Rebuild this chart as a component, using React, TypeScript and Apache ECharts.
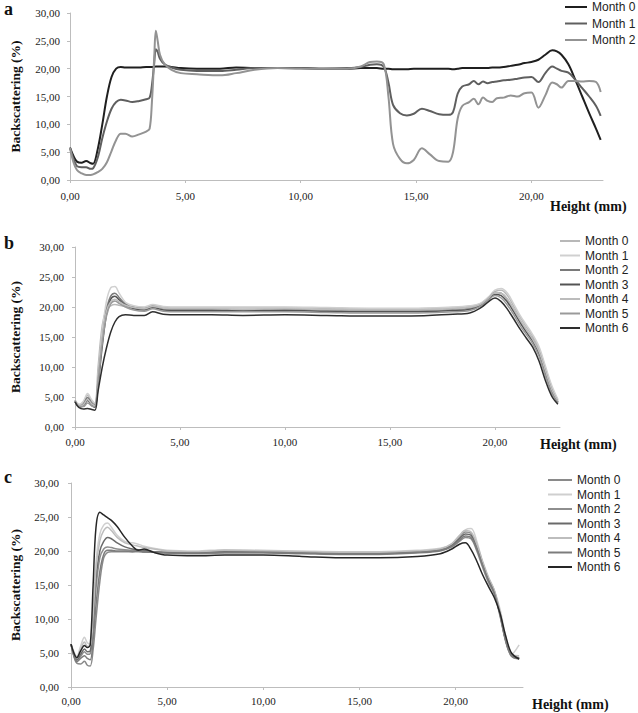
import React, { useEffect, useRef } from "react";
import * as echarts from "echarts";

// ---------- Panel a ----------
const xA = [0, 0.15, 0.3, 0.5, 0.7, 0.9, 1.0, 1.2, 1.4, 1.6, 1.8, 2.0, 2.2, 2.4, 2.7, 3.0, 3.3, 3.45, 3.55, 3.65, 3.72, 3.8, 3.9, 4.1, 4.4, 4.8, 5.5, 6.5, 7.2, 8.0, 9, 10, 11, 12, 12.6, 13.0, 13.3, 13.6, 13.8, 14.0, 14.3, 14.6, 14.9, 15.25, 15.6, 16.0, 16.4, 16.6, 16.8, 17.0, 17.3, 17.5, 17.7, 17.9, 18.1, 18.3, 18.5, 18.8, 19.1, 19.4, 19.7, 20.0, 20.3, 20.6, 20.9, 21.1, 21.3, 21.6, 21.9, 22.2, 22.5, 22.8, 23.0];
const aMonth0 = [5.8, 4.3, 3.3, 3.1, 3.4, 3.0, 2.9, 5.5, 10, 15, 18.5, 20.0, 20.3, 20.2, 20.2, 20.2, 20.3, 20.3, 20.3, 20.3, 20.4, 20.4, 20.4, 20.4, 20.3, 20.1, 20.0, 20.0, 20.2, 20.1, 20.1, 20.1, 20.0, 20.0, 20.1, 20.1, 20.1, 20.0, 20.0, 19.9, 19.9, 19.9, 20.0, 20.0, 20.0, 20.0, 20.0, 19.9, 20.0, 20.1, 20.1, 20.1, 20.1, 20.1, 20.1, 20.2, 20.2, 20.3, 20.5, 20.7, 21.0, 21.2, 21.6, 22.5, 23.3, 23.1, 22.5, 20.8, 18.0, 15.0, 12.0, 9.2, 7.2];
const aMonth1 = [5.8, 3.8, 2.5, 2.3, 2.3, 2.0, 2.1, 4.0, 7.5, 10.5, 12.8, 14.0, 14.4, 14.3, 14.0, 14.2, 14.5, 14.8, 17, 21, 23.5, 23.0, 21.8, 20.8, 20.2, 19.8, 19.6, 19.6, 19.8, 20.1, 20.1, 20.1, 20.0, 20.1, 20.3, 20.7, 20.8, 20.3, 17.5, 13.5, 12.0, 11.6, 11.9, 12.8, 12.4, 11.8, 11.7, 12.2, 15.5, 16.8, 17.2, 17.8, 17.2, 17.7, 17.4, 17.6, 17.7, 17.9, 18.0, 18.2, 18.4, 18.5, 17.6, 19.2, 20.4, 20.0, 19.6, 19.3, 18.0, 16.5, 15.0, 13.3, 11.5];
const aMonth2 = [5.8, 3.2, 1.8, 1.2, 0.9, 0.9, 1.0, 1.4, 2.0, 3.2, 5.2, 7.2, 8.3, 8.3, 7.8, 8.2, 8.7, 9.2, 14, 22, 26.8, 25, 22.5, 20.8, 19.8, 19.2, 19.0, 18.8, 19.2, 19.8, 20.1, 20.0, 20.0, 20.0, 20.4, 21.2, 21.3, 20.8, 15, 6.5, 3.8, 3.0, 3.6, 5.7, 4.6, 3.4, 3.3, 5, 11, 13.3, 14.0, 14.6, 13.6, 14.8, 14.2, 14.0, 14.7, 14.8, 15.2, 15.0, 15.6, 15.7, 13.0, 15.2, 17.5, 17.2, 16.6, 17.8, 17.8, 17.7, 17.8, 17.6, 15.8];

// ---------- Panel b ----------
const xB = [0, 0.2, 0.4, 0.6, 0.8, 0.95, 1.1, 1.3, 1.5, 1.7, 1.9, 2.1, 2.4, 2.8, 3.3, 3.7, 4.2, 5, 6.5, 8, 10, 12, 14, 16, 18, 18.8, 19.3, 19.7, 20.0, 20.3, 20.6, 20.9, 21.2, 21.5, 21.8, 22.1, 22.4, 22.7, 23.0];
const bMonth0 = [4.5, 3.7, 4.1, 5.3, 4.3, 3.9, 10.0, 17.0, 19.6, 20.2, 20.4, 20.3, 20.1, 20.0, 19.9, 20.3, 20.0, 19.9, 19.9, 19.9, 19.9, 19.8, 19.7, 19.7, 19.9, 20.1, 20.5, 21.6, 22.6, 22.8, 21.9, 20.1, 18.3, 16.7, 15.1, 13.1, 9.9, 6.7, 4.5];
const bMonth1 = [4.5, 3.8, 4.3, 5.6, 4.5, 4.0, 8.5, 16.0, 21.0, 23.2, 23.4, 22.3, 20.8, 20.2, 20.0, 20.4, 20.1, 20.0, 20.0, 20.0, 20.0, 19.9, 19.8, 19.8, 20.0, 20.2, 20.6, 21.7, 22.8, 23.1, 22.3, 20.5, 18.6, 17.0, 15.4, 13.4, 10.2, 7.0, 4.6];
const bMonth2 = [4.4, 3.5, 3.8, 4.9, 4.0, 3.7, 7.8, 14.5, 19.5, 21.8, 22.3, 21.6, 20.5, 19.9, 19.7, 20.1, 19.7, 19.6, 19.6, 19.6, 19.6, 19.5, 19.4, 19.4, 19.6, 19.8, 20.3, 21.4, 22.4, 22.3, 21.2, 19.5, 17.7, 16.1, 14.6, 12.5, 9.3, 6.2, 4.2];
const bMonth3 = [4.3, 3.3, 3.5, 4.4, 3.6, 3.3, 7.0, 13.5, 18.8, 21.3, 21.8, 21.2, 20.3, 19.7, 19.5, 19.9, 19.5, 19.4, 19.4, 19.4, 19.4, 19.3, 19.2, 19.2, 19.4, 19.6, 20.2, 21.3, 22.1, 21.9, 20.8, 19.2, 17.4, 15.8, 14.3, 12.2, 9.0, 6.0, 4.1];
const bMonth4 = [4.3, 3.5, 3.7, 4.6, 3.8, 3.6, 8.0, 15.0, 19.3, 20.9, 21.3, 20.9, 20.3, 19.9, 19.7, 20.1, 19.8, 19.7, 19.7, 19.6, 19.7, 19.6, 19.5, 19.5, 19.7, 19.9, 20.4, 21.5, 22.4, 22.3, 21.3, 19.6, 17.8, 16.2, 14.6, 12.6, 9.4, 6.3, 4.3];
const bMonth5 = [4.3, 3.4, 3.4, 4.0, 3.5, 3.4, 7.5, 14.0, 18.5, 20.5, 21.0, 20.6, 20.0, 19.5, 19.3, 19.7, 19.3, 19.2, 19.2, 19.2, 19.2, 19.1, 19.0, 19.0, 19.2, 19.4, 20.1, 21.2, 21.9, 21.5, 20.3, 18.7, 16.9, 15.4, 13.9, 11.8, 8.6, 5.7, 4.0];
const bMonth6 = [4.2, 3.2, 3.0, 3.1, 2.9, 2.8, 6.0, 10.0, 13.2, 15.8, 17.5, 18.4, 18.7, 18.6, 18.6, 19.2, 18.8, 18.7, 18.7, 18.6, 18.7, 18.6, 18.5, 18.5, 18.8, 19.0, 19.8, 20.9, 21.5, 20.9, 19.6, 18.0, 16.3, 14.8, 13.3, 11.0, 7.8, 5.2, 3.8];

// ---------- Panel c ----------
const xC = [0, 0.15, 0.3, 0.5, 0.7, 0.85, 1.0, 1.15, 1.3, 1.5, 1.7, 1.9, 2.1, 2.4, 2.8, 3.2, 3.5, 3.8, 4.3, 5, 6.5, 8, 10, 12, 14, 16, 18, 19.2, 19.8, 20.2, 20.5, 20.8, 21.1, 21.4, 21.7, 22.0, 22.3, 22.6, 22.9, 23.3];
const cMonth0 = [6.3, 4.5, 3.5, 3.4, 3.8, 3.2, 3.1, 5.5, 10.0, 15.5, 19.0, 19.8, 19.9, 19.9, 19.9, 19.9, 19.9, 19.8, 19.8, 19.7, 19.6, 19.7, 19.7, 19.6, 19.5, 19.5, 19.7, 20.0, 20.6, 21.4, 22.0, 21.8, 20.0, 17.6, 15.4, 13.7, 10.5, 6.7, 4.5, 4.1];
const cMonth1 = [6.4, 5.2, 4.5, 6.0, 7.3, 6.5, 6.3, 11.0, 18.5, 22.5, 23.8, 24.1, 23.5, 22.3, 21.4, 21.2, 21.0, 20.7, 20.4, 20.1, 20.0, 20.2, 20.1, 20.0, 19.9, 19.9, 20.1, 20.4, 21.0, 22.2, 23.1, 23.3, 21.4, 18.3, 16.0, 14.3, 11.5, 7.5, 4.8, 6.2];
const cMonth2 = [6.3, 4.7, 3.9, 4.5, 5.2, 4.8, 4.9, 8.5, 14.5, 19.0, 20.3, 20.6, 20.5, 20.3, 20.2, 20.1, 20.1, 20.0, 19.9, 19.8, 19.8, 19.9, 19.9, 19.8, 19.7, 19.7, 19.9, 20.2, 20.9, 22.0, 22.8, 22.6, 20.8, 18.3, 16.0, 14.2, 11.0, 7.0, 4.7, 4.3];
const cMonth3 = [6.3, 4.8, 4.0, 4.8, 5.6, 5.2, 5.3, 9.5, 16.0, 20.0, 21.4, 22.0, 21.8, 21.2, 20.6, 20.3, 20.2, 20.1, 19.9, 19.8, 19.7, 19.9, 19.8, 19.7, 19.6, 19.6, 19.8, 20.1, 20.8, 21.8, 22.5, 22.3, 20.5, 18.0, 15.8, 14.0, 10.8, 6.9, 4.7, 4.3];
const cMonth4 = [6.3, 5.0, 4.2, 5.5, 6.6, 6.0, 6.0, 10.5, 17.5, 21.5, 23.0, 23.5, 23.0, 22.0, 21.2, 20.9, 20.7, 20.5, 20.3, 20.0, 19.9, 20.1, 20.0, 19.9, 19.8, 19.8, 20.0, 20.3, 21.1, 22.3, 23.0, 22.8, 21.0, 18.5, 16.2, 14.3, 11.0, 7.0, 4.8, 4.6];
const cMonth5 = [6.3, 4.6, 3.7, 4.2, 4.6, 4.2, 4.0, 7.0, 12.0, 17.0, 19.5, 20.1, 20.1, 20.0, 20.0, 19.9, 20.0, 19.9, 19.8, 19.7, 19.7, 19.8, 19.8, 19.7, 19.6, 19.6, 19.8, 20.1, 20.7, 21.6, 22.2, 22.0, 20.3, 17.9, 15.7, 13.9, 10.7, 6.8, 4.6, 4.2];
const cMonth6 = [6.3, 5.0, 4.3, 5.3, 6.1, 5.8, 6.2, 15.0, 23.5, 25.7, 25.3, 24.9, 24.5, 23.6, 22.0, 20.7, 20.1, 20.3, 19.8, 19.4, 19.3, 19.4, 19.4, 19.2, 19.0, 19.0, 19.2, 19.6, 20.3, 21.0, 21.2, 20.2, 18.5, 16.5, 14.8, 13.2, 10.9, 7.5, 5.0, 4.1];

const yTicks = { min: 0, max: 30, interval: 5 };
const xTickInterval = 5;

const panelA = { x: xA, names: ["Month 0", "Month 1", "Month 2"], data: [aMonth0, aMonth1, aMonth2], colors: ["#1f1f1f", "#5f5f5f", "#939393"] };
const panelB = { x: xB, names: ["Month 0", "Month 1", "Month 2", "Month 3", "Month 4", "Month 5", "Month 6"], data: [bMonth0, bMonth1, bMonth2, bMonth3, bMonth4, bMonth5, bMonth6], colors: ["#b8b8b8", "#d0d0d0", "#7a7a7a", "#545454", "#bcbcbc", "#9a9a9a", "#2e2e2e"] };
const panelC = { x: xC, names: ["Month 0", "Month 1", "Month 2", "Month 3", "Month 4", "Month 5", "Month 6"], data: [cMonth0, cMonth1, cMonth2, cMonth3, cMonth4, cMonth5, cMonth6], colors: ["#8a8a8a", "#cfcfcf", "#8e8e8e", "#6a6a6a", "#bdbdbd", "#7c7c7c", "#262626"] };

const fmt = (v: number) => v.toFixed(2).replace(".", ",");

export default function App() {
  const ref = useRef<HTMLDivElement>(null);
  useEffect(() => {
    if (!ref.current) return;
    const chart = echarts.init(ref.current, null, { renderer: "svg" });
    const panels = [
      { key: "a", p: panelA, grid: { left: 58, top: 13, width: 545, height: 167 }, xmax: 23.1, xMargin: 10, yMargin: 10, nameGap: 48, lw: 2, legend: { left: 565, top: 0, itemWidth: 22, itemGap: 2.5 } },
      { key: "b", p: panelB, grid: { left: 66, top: 247, width: 494, height: 180 }, xmax: 23.1, xMargin: 9, yMargin: 11, nameGap: 53, lw: 1.5, legend: { left: 560, top: 234, itemWidth: 20, itemGap: 0.5 } },
      { key: "c", p: panelC, grid: { left: 69, top: 483, width: 454, height: 204 }, xmax: 23.5, xMargin: 8, yMargin: 12, nameGap: 49, lw: 1.5, legend: { left: 548, top: 473, itemWidth: 24, itemGap: 0.5 } },
    ];
    const axisLine = { show: true, lineStyle: { color: "#bdbdbd", width: 1 } };
    const axisTick = { show: true, length: 3, lineStyle: { color: "#bdbdbd" } };
    const grids: any[] = [];
    const xAxes: any[] = [];
    const yAxes: any[] = [];
    const series: any[] = [];
    const legends: any[] = [];
    panels.forEach((pn, i) => {
      grids.push(pn.grid);
      xAxes.push({
        type: "value", gridIndex: i, min: 0, max: pn.xmax, interval: xTickInterval,
        axisLine, axisTick, splitLine: { show: false },
        axisLabel: { showMaxLabel: false, formatter: fmt, margin: pn.xMargin, fontFamily: "Liberation Serif", fontSize: 11, color: "#222" },
      });
      yAxes.push({
        type: "value", gridIndex: i, ...yTicks,
        axisLine, axisTick, splitLine: { show: false },
        axisLabel: { formatter: fmt, margin: pn.yMargin, fontFamily: "Liberation Serif", fontSize: 11, color: "#222" },
        name: "Backscattering (%)", nameLocation: "middle", nameGap: pn.nameGap,
        nameTextStyle: { fontFamily: "Liberation Serif", fontWeight: "bold", fontSize: 13.5, color: "#111" },
      });
      const names: string[] = [];
      pn.p.names.forEach((nm, j) => {
        const sname = pn.key + "|" + nm;
        names.push(sname);
        series.push({
          type: "line", name: sname, xAxisIndex: i, yAxisIndex: i,
          data: pn.p.x.map((xv, k) => [xv, pn.p.data[j][k]]),
          showSymbol: false, smooth: 0.35, color: pn.p.colors[j],
          itemStyle: { color: pn.p.colors[j] },
          lineStyle: { color: pn.p.colors[j], width: pn.lw },
          z: 2 + j,
        });
      });
      legends.push({
        data: names, orient: "vertical", left: pn.legend.left, top: pn.legend.top,
        padding: 0, itemWidth: pn.legend.itemWidth, itemHeight: 2, itemGap: pn.legend.itemGap, icon: "rect",
        selectedMode: false,
        formatter: (n: string) => n.split("|")[1],
        textStyle: { fontFamily: "Liberation Sans", fontSize: 12, color: "#222", lineHeight: 14 },
      });
    });
    const tStyle = (t: string, size: number) => ({ text: t, fontFamily: "Liberation Serif", fontWeight: "bold", fontSize: size, fill: "#111" });
    chart.setOption({
      animation: false,
      backgroundColor: "#fff",
      grid: grids, xAxis: xAxes, yAxis: yAxes, series, legend: legends,
      graphic: [
        { type: "text", left: 4, top: 0, style: tStyle("a", 18) },
        { type: "text", left: 4, top: 234, style: tStyle("b", 18) },
        { type: "text", left: 4, top: 468, style: tStyle("c", 18) },
        { type: "text", left: 550, top: 199, style: tStyle("Height (mm)", 14) },
        { type: "text", left: 540, top: 437, style: tStyle("Height (mm)", 14) },
        { type: "text", left: 532, top: 697, style: tStyle("Height (mm)", 14) },
      ],
    });
    return () => chart.dispose();
  }, []);
  return <div ref={ref} style={{ width: 638, height: 713, position: "absolute", left: 0, top: 0 }} />;
}
